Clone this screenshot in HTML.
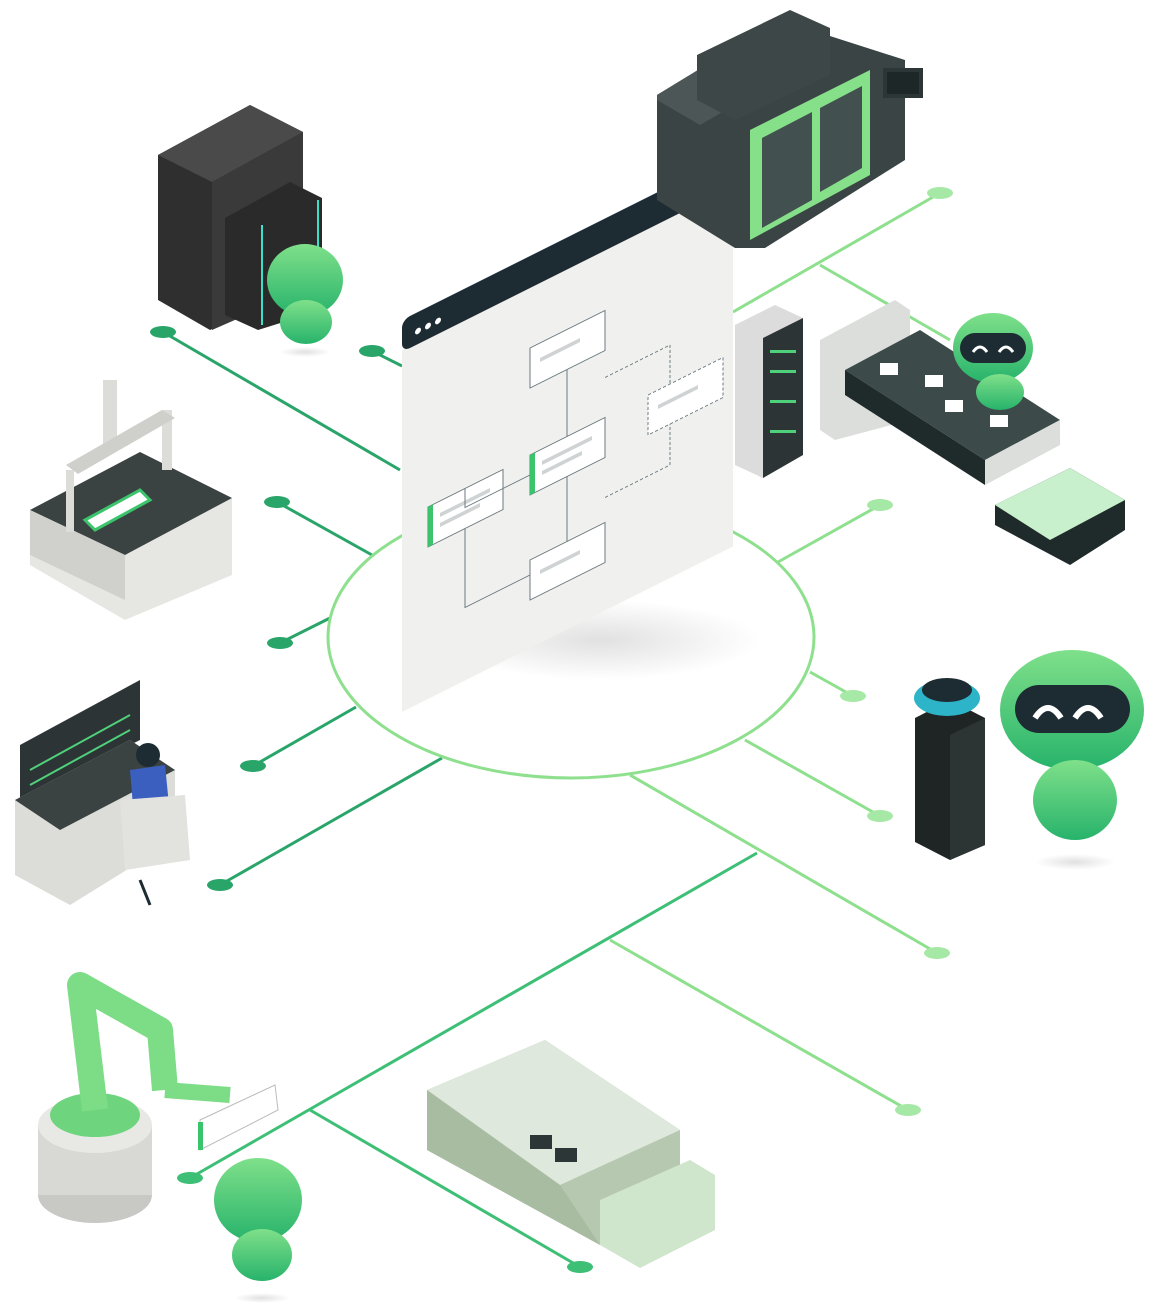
<!DOCTYPE html>
<html><head><meta charset="utf-8"><style>html,body{margin:0;padding:0;background:#fff}svg{display:block}</style></head>
<body>
<svg width="1160" height="1308" viewBox="0 0 1160 1308" xmlns="http://www.w3.org/2000/svg">
<defs>
<linearGradient id="rg" x1="0" y1="0" x2="0" y2="1"><stop offset="0" stop-color="#7fe08a"/><stop offset="1" stop-color="#27b36b"/></linearGradient>
<radialGradient id="sh"><stop offset="0" stop-color="#000" stop-opacity=".12"/><stop offset="1" stop-color="#000" stop-opacity="0"/></radialGradient>
</defs>
<g stroke-width="3" fill="none">
<g stroke="#2aa56a">
<line x1="163" y1="332" x2="400" y2="470"/>
<line x1="372" y1="351" x2="402" y2="366"/>
<line x1="277" y1="502" x2="372" y2="555"/>
<line x1="280" y1="643" x2="330" y2="618"/>
<line x1="253" y1="766" x2="356" y2="707"/>
<line x1="220" y1="885" x2="442" y2="758"/>
</g>
<g stroke="#3dbf75">
<line x1="190" y1="1178" x2="757" y2="853"/>
<line x1="310" y1="1110" x2="580" y2="1267"/>
</g>
<g stroke="#8ee08e">
<line x1="940" y1="193" x2="733" y2="312"/>
<line x1="820" y1="265" x2="950" y2="340"/>
<line x1="880" y1="505" x2="778" y2="562"/>
<line x1="853" y1="696" x2="810" y2="672"/>
<line x1="880" y1="816" x2="745" y2="740"/>
<line x1="937" y1="953" x2="630" y2="775"/>
<line x1="610" y1="940" x2="908" y2="1110"/>
</g>
<ellipse cx="571" cy="637" rx="243" ry="141" stroke="#8ee08e"/>
</g>
<g fill="#2aa56a">
<ellipse cx="163" cy="332" rx="13" ry="6"/><ellipse cx="372" cy="351" rx="13" ry="6"/><ellipse cx="277" cy="502" rx="13" ry="6"/><ellipse cx="280" cy="643" rx="13" ry="6"/><ellipse cx="253" cy="766" rx="13" ry="6"/><ellipse cx="220" cy="885" rx="13" ry="6"/>
</g>
<g fill="#3dbf75"><ellipse cx="190" cy="1178" rx="13" ry="6"/><ellipse cx="580" cy="1267" rx="13" ry="6"/></g>
<g fill="#a6e8a6">
<ellipse cx="940" cy="193" rx="13" ry="6"/><ellipse cx="880" cy="505" rx="13" ry="6"/><ellipse cx="853" cy="696" rx="13" ry="6"/><ellipse cx="880" cy="816" rx="13" ry="6"/><ellipse cx="937" cy="953" rx="13" ry="6"/><ellipse cx="908" cy="1110" rx="13" ry="6"/>
</g>

<ellipse cx="600" cy="640" rx="160" ry="40" fill="url(#sh)"/>
<g transform="matrix(1,-0.5,0,1,0,0)">
<rect x="402" y="551" width="331" height="362" fill="#f0f0ee"/>
<rect x="402" y="521" width="331" height="32" rx="8" fill="#1d2b33"/>
<circle cx="418" cy="540" r="3" fill="#fff"/><circle cx="428" cy="540" r="3" fill="#fff"/><circle cx="438" cy="540" r="3" fill="#fff"/>
<g fill="#fff" stroke="#6c7a80" stroke-width="1">
<rect x="530" y="613" width="75" height="40"/>
<rect x="530" y="720" width="75" height="40"/>
<rect x="428" y="721" width="75" height="40"/>
<rect x="530" y="825" width="75" height="40"/>
<rect x="648" y="719" width="75" height="40" stroke-dasharray="3 2"/>
</g>
<g fill="#3cc46c"><rect x="530" y="720" width="5" height="40"/><rect x="428" y="721" width="5" height="40"/></g>
<g fill="#cfd3d3"><rect x="540" y="628" width="40" height="4"/><rect x="542" y="732" width="50" height="4"/><rect x="542" y="742" width="40" height="4"/><rect x="440" y="733" width="50" height="4"/><rect x="440" y="743" width="40" height="4"/><rect x="540" y="840" width="40" height="4"/><rect x="658" y="734" width="40" height="4"/></g>
<g stroke="#6c7a80" fill="none" stroke-width="1">
<line x1="567" y1="653" x2="567" y2="720"/><line x1="567" y1="760" x2="567" y2="825"/>
<polyline points="530,740 465,740 465,721"/><polyline points="465,761 465,840 530,840"/>
<polyline points="605,680 670,680 670,719" stroke-dasharray="3 2"/><polyline points="605,800 670,800 670,759" stroke-dasharray="3 2"/>
</g>
</g>

<polygon points="158,155 250,105 303,132 303,290 210,330 158,300" fill="#2f2f30"/>
<polygon points="158,155 250,105 303,132 212,182" fill="#4a4a4b"/>
<polygon points="212,182 303,132 303,290 212,330" fill="#3a3a3b"/>
<polygon points="225,218 290,182 322,198 322,310 258,330 225,315" fill="#2a2a2b"/>
<line x1="262" y1="225" x2="262" y2="325" stroke="#3be0c8" stroke-width="2"/>
<line x1="318" y1="200" x2="318" y2="300" stroke="#3be0c8" stroke-width="2"/>
<ellipse cx="305" cy="280" rx="38" ry="36" fill="url(#rg)"/>
<ellipse cx="306" cy="322" rx="26" ry="22" fill="url(#rg)"/>
<ellipse cx="305" cy="352" rx="25" ry="5" fill="url(#sh)"/>

<polygon points="657,95 780,20 905,60 905,160 765,248 735,248 657,200" fill="#3a4444"/>
<polygon points="657,95 780,20 830,40 830,50 700,125 657,100" fill="#4c5656"/>
<polygon points="697,55 790,10 830,28 830,75 735,120 697,100" fill="#3e4747"/>
<polygon points="750,130 870,70 870,175 750,240" fill="#86e08a"/>
<polygon points="762,138 812,112 812,200 762,228" fill="#435050"/>
<polygon points="820,108 862,86 862,168 820,192" fill="#435050"/>
<rect x="883" y="68" width="40" height="30" fill="#2c3636"/><rect x="887" y="72" width="32" height="22" fill="#1d2727"/>

<polygon points="735,325 775,305 803,318 803,455 763,478 735,465" fill="#dcdcdc"/>
<polygon points="763,338 803,318 803,455 763,478" fill="#2d3436"/>
<g fill="#4fd07a"><rect x="770" y="350" width="26" height="3"/><rect x="770" y="370" width="26" height="3"/><rect x="770" y="400" width="26" height="3"/><rect x="770" y="430" width="26" height="3"/></g>
<polygon points="820,340 895,300 910,310 910,420 835,440 820,430" fill="#dcdedc"/>
<polygon points="845,370 920,330 1060,420 985,460" fill="#3d4a4a"/>
<polygon points="845,370 985,460 985,485 845,395" fill="#1f2a2a"/>
<polygon points="985,460 1060,420 1060,445 985,485" fill="#dcdedc"/>
<rect x="880" y="363" width="18" height="12" fill="#fff"/><rect x="925" y="375" width="18" height="12" fill="#fff"/><rect x="945" y="400" width="18" height="12" fill="#fff"/><rect x="990" y="415" width="18" height="12" fill="#fff"/>
<polygon points="995,505 1070,468 1125,500 1125,530 1070,565 995,525" fill="#1f2a2a"/>
<polygon points="995,505 1070,468 1125,500 1050,540" fill="#c8f0cc"/>
<ellipse cx="993" cy="348" rx="40" ry="35" fill="url(#rg)"/>
<rect x="960" y="333" width="66" height="30" rx="15" fill="#1d2b33"/>
<path d="M973 352 q7 -10 14 0 M999 352 q7 -10 14 0" stroke="#fff" stroke-width="3" fill="none"/>
<ellipse cx="1000" cy="392" rx="24" ry="18" fill="url(#rg)"/>

<!-- CMM -->
<polygon points="30,510 140,452 232,498 232,575 125,620 30,565" fill="#e6e6e2"/>
<polygon points="30,510 140,452 232,498 125,555" fill="#3a4242"/>
<polygon points="30,510 125,555 125,600 30,555" fill="#d0d0cc"/>
<rect x="103" y="380" width="14" height="70" fill="#dcdcd8"/>
<rect x="66" y="470" width="8" height="62" fill="#dcdcd8"/>
<rect x="162" y="410" width="10" height="60" fill="#dcdcd8"/>
<polygon points="66,465 162,410 175,418 78,474" fill="#cfcfcb"/>
<polygon points="85,520 140,490 150,500 95,530" fill="#fff" stroke="#3cc46c" stroke-width="3"/>

<polygon points="20,745 140,680 140,740 20,800" fill="#2d3436"/>
<polygon points="15,800 130,740 175,770 175,840 70,905 15,875" fill="#dcdcd8"/>
<polygon points="15,800 130,740 175,770 60,830" fill="#3a4242"/>
<g stroke="#4fd07a" stroke-width="2"><line x1="30" y1="770" x2="130" y2="715"/><line x1="30" y1="785" x2="130" y2="730"/></g>
<ellipse cx="148" cy="755" rx="12" ry="12" fill="#1d2b33"/>
<polygon points="130,770 165,765 170,815 135,830" fill="#3a5fbf"/>
<polygon points="120,800 185,795 190,860 125,870" fill="#e2e2de"/>
<line x1="140" y1="880" x2="150" y2="905" stroke="#1d2b33" stroke-width="3"/>

<polygon points="915,718 950,700 985,718 985,845 950,860 915,842" fill="#1f2525"/>
<polygon points="950,735 985,718 985,845 950,860" fill="#2d3434"/>
<ellipse cx="947" cy="698" rx="33" ry="18" fill="#2db4c8"/>
<ellipse cx="947" cy="690" rx="25" ry="12" fill="#1d2b33"/>
<ellipse cx="1072" cy="710" rx="72" ry="60" fill="url(#rg)"/>
<rect x="1015" y="685" width="115" height="48" rx="24" fill="#1d2b33"/>
<path d="M1035 718 q13 -20 26 0 M1075 718 q13 -20 26 0" stroke="#fff" stroke-width="6" fill="none"/>
<ellipse cx="1075" cy="800" rx="42" ry="40" fill="url(#rg)"/>
<ellipse cx="1075" cy="862" rx="40" ry="8" fill="url(#sh)"/>

<ellipse cx="95" cy="1195" rx="57" ry="28" fill="#c8c8c4"/>
<rect x="38" y="1125" width="114" height="70" fill="#d8d8d4"/>
<ellipse cx="95" cy="1125" rx="57" ry="28" fill="#e8e8e4"/>
<ellipse cx="95" cy="1115" rx="45" ry="22" fill="#6fd47e"/>
<path d="M95 1110 L80 985 L160 1030 L165 1090" stroke="#7ddc86" stroke-width="26" fill="none" stroke-linejoin="round"/>
<path d="M165 1090 L230 1095" stroke="#7ddc86" stroke-width="16" fill="none"/>
<polygon points="200,1120 275,1085 278,1110 200,1150" fill="#fff" stroke="#bbb"/>
<rect x="198" y="1122" width="5" height="28" fill="#3cc46c"/>
<ellipse cx="258" cy="1200" rx="44" ry="42" fill="url(#rg)"/>
<ellipse cx="262" cy="1255" rx="30" ry="26" fill="url(#rg)"/>
<ellipse cx="262" cy="1298" rx="28" ry="5" fill="url(#sh)"/>

<polygon points="427,1090 545,1040 680,1130 680,1190 600,1245 427,1150" fill="#b6c8b0"/>
<polygon points="427,1090 545,1040 680,1130 560,1185" fill="#dfe8dc"/>
<polygon points="427,1090 560,1185 600,1245 427,1150" fill="#a8bca2"/>
<polygon points="600,1200 690,1160 715,1175 715,1230 640,1268 600,1245" fill="#cfe5cc"/>
<g fill="#2d3636"><rect x="530" y="1135" width="22" height="14"/><rect x="555" y="1148" width="22" height="14"/></g>
</svg>
</body></html>
